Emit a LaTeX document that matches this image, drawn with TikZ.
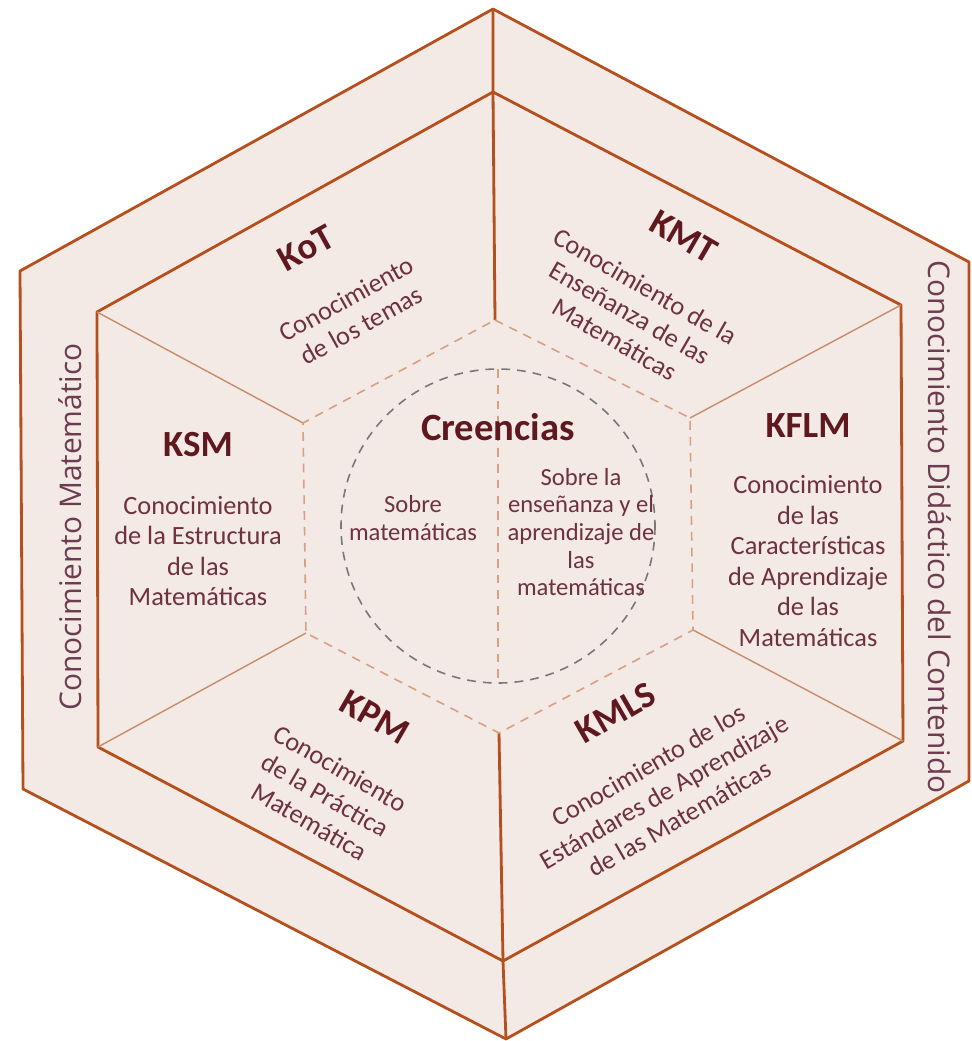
\documentclass[tikz,border=0pt]{standalone}
\usepackage{fontspec}
\setmainfont{Carlito}
\newfontfamily\sidefont{Open Sans}
\usepackage{xcolor}
\usepackage{tikz}

\definecolor{edgebrown}{RGB}{181,80,30}
\definecolor{fillbeige}{RGB}{243,233,229}
\definecolor{thinbrown}{RGB}{200,140,105}
\definecolor{dashbrown}{RGB}{215,160,130}
\definecolor{circlegrey}{RGB}{120,120,120}
\definecolor{headred}{RGB}{95,25,30}
\definecolor{textred}{RGB}{110,50,60}
\definecolor{sidetext}{RGB}{110,60,80}

\begin{document}
\begin{tikzpicture}[x=0.02cm, y=-0.02cm,
    border/.style={draw=edgebrown, line width=1.6pt, line join=round},
    thin line/.style={draw=thinbrown, line width=0.8pt},
    dash line/.style={draw=dashbrown, line width=0.9pt, dash pattern=on 5pt off 4pt},
    head/.style={text=headred, font=\bfseries\fontsize{21}{25}\selectfont},
    body/.style={text=textred, align=center, font=\fontsize{15}{17.4}\selectfont},
    belief/.style={text=textred, align=center, font=\fontsize{14}{15.7}\selectfont},
    side/.style={text=sidetext, font=\sidefont\fontsize{17}{20}\selectfont}]

    \useasboundingbox (0,0) rectangle (971,1041);

    % hexagon corners: outer, inner, dashed
    \coordinate (o1) at (493,9);   \coordinate (o2) at (969,262);
    \coordinate (o3) at (969,781); \coordinate (o4) at (506,1039);
    \coordinate (o5) at (23,789);  \coordinate (o6) at (20,271);
    \coordinate (i1) at (493,92);  \coordinate (i2) at (901,305);
    \coordinate (i3) at (903,741); \coordinate (i4) at (503,961);
    \coordinate (i5) at (98,747);  \coordinate (i6) at (97,312);
    \coordinate (d1) at (495,320); \coordinate (d2) at (690,418);
    \coordinate (d3) at (693,630); \coordinate (d4) at (499,733);
    \coordinate (d5) at (306,633); \coordinate (d6) at (303,423);
    \coordinate (c) at (498,526);

    \path[border, fill=fillbeige] (o1) -- (o2) -- (o3) -- (o4) -- (o5) -- (o6) -- cycle;
    \path[border] (i1) -- (i2) -- (i3) -- (i4) -- (i5) -- (i6) -- cycle;
    \path[border] (o1) -- (i1) -- (d1);
    \path[border] (o4) -- (i4) -- (d4);
    \path[thin line] (i2) -- (d2) (i3) -- (d3) (i5) -- (d5) (i6) -- (d6);
    \path[dash line] (d1) -- (d2) -- (d3) -- (d4) -- (d5) -- (d6) -- cycle;

    % beliefs
    \draw[circlegrey, line width=0.9pt, dash pattern=on 5pt off 4pt] (c) circle [radius=157];
    \path[dash line] (498,369) -- (498,683);

    \node[head] (kot) at (306,248) [rotate=29] {KoT};
    \node[body] (kotx) at (354,312) [rotate=29] {Conocimiento\\de los temas};
    \node[head] (kmt) at (684,237) [rotate=-30] {KMT};
    \node[body] (kmtx) at (630,313) [rotate=-30] {Conocimiento de la\\Enseñanza de las\\Matemáticas};
    \node[head] (ksm) at (198,445) {KSM};
    \node[body] (ksmx) at (198,551) {Conocimiento\\de la Estructura\\de las\\Matemáticas};
    \node[head] (kflm) at (808,426) {KFLM};
    \node[body] (kflmx) at (808,561) {Conocimiento\\de las\\Características\\de Aprendizaje\\de las\\Matemáticas};
    \node[head] (kpm) at (375,717) [rotate=-30] {KPM};
    \node[body] (kpmx) at (325,795) [rotate=-30] {Conocimiento\\de la Práctica\\Matemática};
    \node[head] (kmls) at (616,713) [rotate=30] {KMLS};
    \node[body] (kmlsx) at (664,792) [rotate=30] {Conocimiento de los\\Estándares de Aprendizaje\\de las Matemáticas};

    \node[head, font=\bfseries\fontsize{22}{26}\selectfont] (cre) at (498,427) {Creencias};
    \node[belief] (sob1) at (413,518) {Sobre\\matemáticas};
    \node[belief] (sob2) at (581,532) {Sobre la\\enseñanza y el\\aprendizaje de\\las\\matemáticas};

    \node[side] (cm) at (70,527) [rotate=90] {Conocimiento Matemático};
    \node[side] (cdc) at (940,527) [rotate=-90] {Conocimiento Didáctico del Contenido};
\end{tikzpicture}
\end{document}
